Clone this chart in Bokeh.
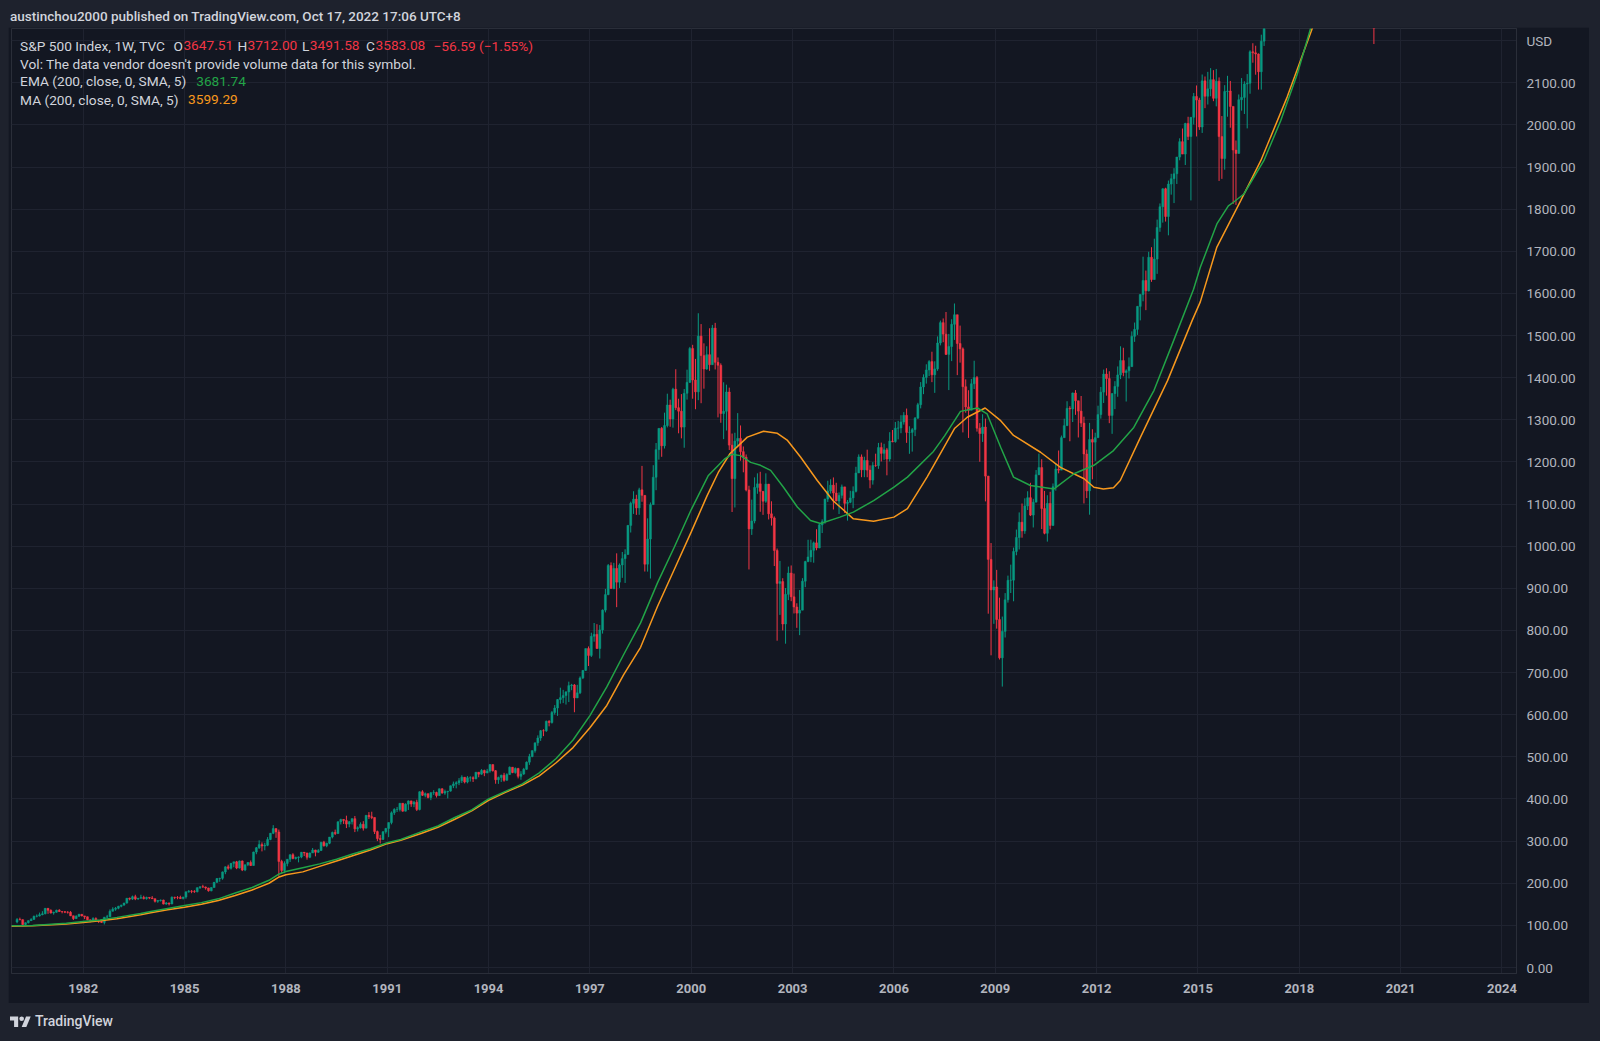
from bokeh.plotting import figure
from bokeh.models import (ColumnDataSource, FixedTicker, Range1d, Div, Label,
                          NumeralTickFormatter, PrintfTickFormatter, CDSView, BooleanFilter)
from bokeh.layouts import column
from bokeh.embed import file_html
from bokeh.resources import INLINE

# ---------------- data (S&P 500, monthly OHLC estimates, Jan 1980 .. Oct 2022) ----------------
first_year = 1980
first_open = 107.94

month_close = [
    114.16, 113.66, 102.09, 106.29, 111.24, 114.24, 121.67, 122.38, 125.46, 127.47, 140.52, 135.76,
    129.55, 131.27, 136.00, 132.81, 132.59, 131.21, 130.92, 122.79, 116.18, 121.89, 126.35, 122.55,
    120.40, 113.11, 111.96, 116.44, 111.88, 109.61, 107.09, 119.51, 120.42, 133.71, 138.54, 140.64,
    145.30, 148.06, 152.96, 164.42, 162.39, 168.11, 162.56, 164.40, 166.07, 163.55, 166.40, 164.93,
    163.41, 157.06, 159.18, 160.05, 150.55, 153.18, 150.66, 166.68, 166.10, 166.09, 163.58, 167.24,
    179.63, 181.18, 180.66, 179.83, 189.55, 191.85, 190.92, 188.63, 182.08, 189.82, 202.17, 211.28,
    211.78, 226.92, 238.90, 235.52, 247.35, 250.84, 236.12, 252.93, 231.32, 243.98, 249.22, 242.17,
    274.08, 284.20, 291.70, 288.36, 290.10, 304.00, 318.66, 329.80, 321.83, 251.79, 230.30, 247.08,
    257.07, 267.82, 258.89, 261.33, 262.16, 273.50, 272.02, 261.52, 271.91, 278.97, 273.70, 277.72,
    297.47, 288.86, 294.87, 309.64, 320.52, 317.98, 346.08, 351.45, 349.15, 340.36, 345.99, 353.40,
    329.08, 331.89, 339.94, 330.80, 361.23, 358.02, 356.15, 322.56, 306.05, 304.00, 322.22, 330.22,
    343.93, 367.07, 375.22, 375.35, 389.83, 371.16, 387.81, 395.43, 387.86, 392.46, 375.22, 417.09,
    408.79, 412.70, 403.69, 414.95, 415.35, 408.14, 424.21, 414.03, 417.80, 418.68, 431.35, 435.71,
    438.78, 443.38, 451.67, 440.19, 450.19, 450.53, 448.13, 463.56, 458.93, 467.83, 461.79, 466.45,
    481.61, 467.14, 445.77, 450.91, 456.50, 444.27, 458.26, 475.49, 462.69, 472.35, 453.69, 459.27,
    470.42, 487.39, 500.71, 514.71, 533.40, 544.75, 562.06, 561.88, 584.41, 581.50, 605.37, 615.93,
    636.02, 640.43, 645.50, 654.17, 669.12, 670.63, 639.95, 651.99, 687.31, 705.27, 757.02, 740.74,
    786.16, 790.82, 757.12, 801.34, 848.28, 885.14, 954.29, 899.47, 947.28, 914.62, 955.40, 970.43,
    980.28, 1049.34, 1101.75, 1111.75, 1090.82, 1133.84, 1120.67, 957.28, 1017.01, 1098.67, 1163.63, 1229.23,
    1279.64, 1238.33, 1286.37, 1335.18, 1301.84, 1372.71, 1328.72, 1320.41, 1282.71, 1362.93, 1388.91, 1469.25,
    1394.46, 1366.42, 1498.58, 1452.43, 1420.60, 1454.60, 1430.83, 1517.68, 1436.51, 1429.40, 1314.95, 1320.28,
    1366.01, 1239.94, 1160.33, 1249.46, 1255.82, 1224.42, 1211.23, 1133.58, 1040.94, 1059.78, 1139.45, 1148.08,
    1130.20, 1106.73, 1147.39, 1076.92, 1067.14, 989.82, 911.62, 916.07, 815.28, 885.76, 936.31, 879.82,
    855.70, 841.15, 848.18, 916.92, 963.59, 974.50, 990.31, 1008.01, 995.97, 1050.71, 1058.20, 1111.92,
    1131.13, 1144.94, 1126.21, 1107.30, 1120.68, 1140.84, 1101.72, 1104.24, 1114.58, 1130.20, 1173.82, 1211.92,
    1181.27, 1203.60, 1180.59, 1156.85, 1191.50, 1191.33, 1234.18, 1220.33, 1228.81, 1207.01, 1249.48, 1248.29,
    1280.08, 1280.66, 1294.87, 1310.61, 1270.09, 1270.20, 1276.66, 1303.82, 1335.85, 1377.94, 1400.63, 1418.30,
    1438.24, 1406.82, 1420.86, 1482.37, 1530.62, 1503.35, 1455.27, 1473.99, 1526.75, 1549.38, 1481.14, 1468.36,
    1378.55, 1330.63, 1322.70, 1385.59, 1400.38, 1280.00, 1267.38, 1282.83, 1166.36, 968.75, 896.24, 903.25,
    825.88, 735.09, 797.87, 872.81, 919.14, 919.32, 987.48, 1020.62, 1057.08, 1036.19, 1095.63, 1115.10,
    1073.87, 1104.49, 1169.43, 1186.69, 1089.41, 1030.71, 1101.60, 1049.33, 1141.20, 1183.26, 1180.55, 1257.64,
    1286.12, 1327.22, 1325.83, 1363.61, 1345.20, 1320.64, 1292.28, 1218.89, 1131.42, 1253.30, 1246.96, 1257.60,
    1312.41, 1365.68, 1408.47, 1397.91, 1310.33, 1362.16, 1379.32, 1406.58, 1440.67, 1412.16, 1416.18, 1426.19,
    1498.11, 1514.68, 1569.19, 1597.57, 1630.74, 1606.28, 1685.73, 1632.97, 1681.55, 1756.54, 1805.81, 1848.36,
    1782.59, 1859.45, 1872.34, 1883.95, 1923.57, 1960.23, 1930.67, 2003.37, 1972.29, 2018.05, 2067.56, 2058.90,
    1994.99, 2104.50, 2067.89, 2085.51, 2107.39, 2063.11, 2103.84, 1972.18, 1920.03, 2079.36, 2080.41, 2043.94,
    1940.24, 1932.23, 2059.74, 2065.30, 2096.95, 2098.86, 2173.60, 2170.95, 2168.27, 2126.15, 2198.81, 2238.83,
    2278.87, 2363.64, 2362.72, 2384.20, 2411.80, 2423.41, 2470.30, 2471.65, 2519.36, 2575.26, 2647.58, 2673.61,
    2823.81, 2713.83, 2640.87, 2648.05, 2705.27, 2718.37, 2816.29, 2901.52, 2913.98, 2711.74, 2760.17, 2506.85,
    2704.10, 2784.49, 2834.40, 2945.83, 2752.06, 2941.76, 2980.38, 2926.46, 2976.74, 3037.56, 3140.98, 3230.78,
    3225.52, 2954.22, 2584.59, 2912.43, 3044.31, 3100.29, 3271.12, 3500.31, 3363.00, 3269.96, 3621.63, 3756.07,
    3714.24, 3811.15, 3972.89, 4181.17, 4204.11, 4297.50, 4395.26, 4522.68, 4307.54, 4605.38, 4567.00, 4766.18,
    4515.55, 4373.94, 4530.41, 4131.93, 4132.15, 3785.38, 4130.29, 3955.00, 3585.62, 3583.07,
]

month_high = [
    117.2, 118.4, 114.3, 106.9, 111.9, 117.0, 123.1, 126.0, 130.4, 133.7, 141.0, 140.7,
    138.1, 132.5, 137.2, 138.4, 134.0, 133.9, 133.9, 133.9, 123.0, 123.9, 127.3, 126.3,
    122.6, 121.0, 113.9, 119.3, 119.1, 112.2, 112.5, 120.0, 124.9, 138.0, 143.0, 143.7,
    146.5, 149.0, 153.7, 164.4, 166.0, 170.7, 172.7, 165.0, 172.7, 170.4, 168.1, 167.2,
    169.5, 163.4, 160.0, 161.4, 161.0, 155.5, 154.1, 168.8, 167.9, 169.6, 170.4, 168.0,
    180.3, 183.9, 183.9, 183.6, 190.0, 192.5, 196.4, 192.3, 189.4, 190.1, 203.1, 212.0,
    213.0, 227.9, 240.0, 244.0, 248.0, 250.8, 253.1, 254.0, 254.1, 244.1, 250.1, 254.0,
    275.0, 286.0, 301.9, 297.0, 296.0, 309.5, 319.4, 337.9, 328.0, 327.4, 255.7, 252.0,
    257.1, 268.5, 271.3, 263.1, 263.7, 274.3, 274.1, 272.1, 273.0, 283.7, 279.4, 281.0,
    297.5, 300.6, 296.3, 309.6, 322.6, 327.4, 346.4, 353.1, 351.9, 360.4, 347.9, 354.1,
    359.7, 335.0, 344.5, 347.3, 361.3, 368.9, 369.8, 356.2, 325.0, 314.8, 323.6, 331.3,
    344.1, 370.5, 378.1, 381.1, 390.0, 389.6, 389.6, 396.7, 396.2, 395.4, 398.3, 418.3,
    420.8, 415.4, 413.1, 416.3, 420.9, 417.3, 424.9, 425.3, 422.3, 419.0, 431.9, 441.3,
    442.1, 449.6, 456.3, 451.6, 454.4, 453.9, 453.8, 464.0, 463.6, 470.9, 469.5, 471.5,
    482.9, 482.0, 468.6, 453.1, 457.6, 462.1, 461.1, 477.3, 474.0, 475.0, 474.0, 466.0,
    473.8, 489.2, 507.2, 515.3, 533.5, 551.1, 563.8, 565.5, 586.1, 587.0, 608.9, 622.9,
    637.0, 664.2, 659.0, 656.0, 678.5, 673.3, 672.7, 671.0, 690.9, 706.0, 757.0, 762.1,
    794.7, 817.7, 814.9, 812.9, 850.0, 898.7, 957.7, 961.6, 960.5, 983.1, 959.1, 986.3,
    992.7, 1050.0, 1105.7, 1130.5, 1122.0, 1138.7, 1190.6, 1121.0, 1066.1, 1103.8, 1192.3, 1244.9,
    1280.0, 1283.0, 1317.0, 1362.0, 1347.8, 1376.0, 1420.0, 1350.0, 1361.0, 1373.0, 1419.0, 1473.0,
    1478.0, 1444.6, 1552.9, 1527.2, 1481.5, 1474.6, 1517.3, 1525.2, 1530.1, 1448.0, 1434.0, 1389.1,
    1383.4, 1376.4, 1267.4, 1269.3, 1315.9, 1286.6, 1236.7, 1217.8, 1143.5, 1110.6, 1163.4, 1173.0,
    1176.6, 1131.0, 1173.0, 1147.8, 1106.6, 1070.7, 994.5, 965.0, 924.0, 900.7, 951.6, 954.3,
    935.1, 864.6, 895.9, 924.2, 965.4, 1015.3, 1015.4, 1011.0, 1040.3, 1053.8, 1063.7, 1112.6,
    1155.4, 1158.9, 1163.2, 1150.6, 1127.7, 1146.3, 1140.8, 1109.7, 1131.5, 1142.0, 1188.5, 1217.9,
    1217.8, 1212.4, 1229.1, 1191.9, 1199.6, 1219.6, 1245.2, 1245.9, 1243.1, 1233.3, 1270.6, 1275.8,
    1294.9, 1297.6, 1310.9, 1318.2, 1326.7, 1284.7, 1280.4, 1306.7, 1340.3, 1389.5, 1407.9, 1431.8,
    1441.6, 1461.6, 1438.9, 1498.0, 1535.6, 1540.6, 1555.9, 1503.9, 1538.7, 1576.1, 1545.4, 1523.6,
    1471.8, 1396.0, 1370.2, 1397.0, 1440.2, 1404.1, 1292.2, 1313.2, 1303.0, 1167.0, 1007.5, 918.9,
    943.8, 877.9, 833.0, 888.7, 930.2, 956.2, 996.7, 1039.5, 1080.2, 1101.4, 1113.7, 1130.4,
    1150.5, 1112.4, 1180.7, 1219.8, 1206.5, 1131.2, 1121.0, 1129.2, 1148.9, 1196.1, 1227.1, 1262.6,
    1302.7, 1344.1, 1332.3, 1364.6, 1370.6, 1345.2, 1356.5, 1307.4, 1229.3, 1292.7, 1277.6, 1269.4,
    1333.5, 1378.0, 1419.2, 1422.4, 1415.3, 1363.5, 1391.7, 1426.7, 1474.5, 1471.0, 1419.7, 1448.0,
    1509.9, 1530.9, 1570.3, 1597.6, 1687.2, 1654.2, 1698.8, 1709.7, 1729.9, 1775.2, 1813.6, 1849.4,
    1850.8, 1867.9, 1884.0, 1897.3, 1924.0, 1968.2, 1991.4, 2005.0, 2019.3, 2018.2, 2075.8, 2093.6,
    2064.4, 2119.6, 2114.9, 2125.9, 2134.7, 2130.0, 2132.8, 2112.7, 2021.0, 2094.3, 2116.5, 2104.3,
    2038.2, 1963.0, 2072.2, 2111.1, 2103.5, 2120.6, 2177.1, 2193.8, 2187.9, 2169.6, 2214.1, 2277.5,
    2301.0, 2371.5, 2401.0, 2398.2, 2418.7, 2453.8, 2484.0, 2490.9, 2519.4, 2583.0, 2657.7, 2695.0,
    2872.9, 2789.2, 2801.9, 2717.5, 2742.2, 2791.5, 2848.0, 2916.5, 2940.9, 2939.9, 2815.2, 2800.2,
    2709.0, 2813.5, 2860.3, 2949.5, 2954.1, 2964.2, 3028.0, 3013.6, 3022.0, 3050.1, 3154.3, 3247.9,
    3337.8, 3393.5, 3136.7, 2954.9, 3068.7, 3233.1, 3280.0, 3514.8, 3588.1, 3549.9, 3646.0, 3760.2,
    3870.9, 3950.4, 3994.4, 4218.8, 4238.0, 4302.4, 4430.0, 4537.4, 4545.9, 4608.1, 4743.8, 4808.9,
    4818.6, 4595.3, 4637.3, 4593.5, 4307.7, 4177.5, 4140.2, 4325.3, 4119.3, 3806.9,
]

month_low = [
    105.0, 111.9, 98.2, 101.0, 104.6, 110.5, 113.5, 119.1, 121.0, 124.0, 126.3, 127.4,
    128.0, 125.5, 130.2, 132.0, 128.6, 129.1, 128.0, 122.0, 112.8, 115.2, 119.9, 121.5,
    114.9, 112.5, 107.3, 111.5, 110.6, 105.5, 106.1, 102.2, 117.0, 120.7, 132.9, 134.8,
    138.3, 142.9, 147.6, 151.6, 159.5, 160.4, 159.9, 160.8, 163.7, 161.7, 161.1, 162.3,
    162.7, 154.3, 153.6, 156.6, 149.9, 149.0, 147.3, 150.6, 162.3, 162.1, 162.6, 161.6,
    163.4, 177.6, 176.4, 177.2, 178.4, 186.5, 189.3, 184.8, 180.2, 180.9, 189.5, 200.8,
    203.5, 208.4, 221.5, 232.1, 232.5, 238.0, 233.4, 234.9, 228.8, 228.7, 240.6, 240.9,
    242.2, 268.9, 281.5, 275.6, 278.2, 288.0, 302.2, 316.6, 307.8, 216.5, 222.5, 223.9,
    240.2, 250.5, 256.9, 256.3, 249.6, 259.4, 264.5, 256.0, 259.6, 271.8, 263.9, 272.0,
    276.4, 287.1, 285.5, 292.7, 306.5, 314.4, 317.0, 339.6, 340.8, 331.0, 333.0, 339.5,
    321.4, 322.9, 329.8, 325.0, 330.7, 352.4, 352.2, 316.9, 300.1, 294.5, 303.0, 317.8,
    309.4, 339.8, 362.1, 369.1, 370.4, 370.0, 370.6, 374.0, 381.4, 380.6, 371.4, 373.0,
    407.2, 404.0, 401.4, 397.2, 409.7, 403.5, 407.2, 412.6, 410.0, 401.4, 417.4, 425.8,
    425.3, 432.9, 438.0, 437.0, 437.2, 441.4, 440.4, 446.6, 451.6, 457.6, 454.2, 461.1,
    462.6, 465.1, 436.2, 435.9, 440.5, 441.1, 443.8, 457.2, 461.3, 460.1, 448.9, 445.6,
    457.2, 469.3, 481.0, 499.1, 510.0, 526.3, 538.0, 549.2, 559.2, 572.5, 579.0, 600.3,
    597.3, 626.3, 627.6, 624.2, 630.1, 658.2, 605.9, 639.5, 649.0, 684.6, 703.8, 715.7,
    737.0, 773.4, 756.6, 733.5, 792.6, 842.9, 883.7, 899.5, 897.9, 855.3, 900.9, 924.9,
    912.8, 980.3, 1032.5, 1076.7, 1074.4, 1074.6, 1105.5, 939.9, 939.7, 923.3, 1098.3, 1132.9,
    1205.5, 1212.2, 1231.9, 1282.0, 1283.5, 1281.4, 1323.0, 1268.0, 1256.0, 1233.7, 1348.0, 1387.4,
    1350.1, 1325.1, 1346.6, 1339.4, 1373.9, 1418.7, 1416.3, 1431.4, 1419.5, 1305.8, 1293.0, 1254.1,
    1274.6, 1228.4, 1081.2, 1091.9, 1234.4, 1203.0, 1175.4, 1130.2, 944.8, 1026.8, 1054.3, 1124.4,
    1081.7, 1074.4, 1103.0, 1063.5, 1048.9, 952.9, 775.7, 837.0, 800.2, 768.6, 872.0, 869.5,
    840.3, 806.3, 788.9, 847.9, 902.8, 962.0, 962.1, 960.8, 990.4, 995.3, 1031.2, 1053.4,
    1105.1, 1124.9, 1087.2, 1106.7, 1076.3, 1113.3, 1078.8, 1060.7, 1102.1, 1090.2, 1127.6, 1173.6,
    1163.8, 1163.8, 1163.7, 1137.5, 1146.2, 1188.3, 1183.6, 1201.1, 1205.1, 1168.2, 1201.1, 1246.6,
    1245.7, 1253.6, 1268.2, 1288.6, 1245.3, 1219.3, 1224.5, 1261.3, 1302.4, 1327.1, 1360.9, 1385.9,
    1403.9, 1389.4, 1364.0, 1416.4, 1476.7, 1484.2, 1454.3, 1370.6, 1439.3, 1489.6, 1406.1, 1435.7,
    1270.1, 1316.8, 1257.0, 1324.4, 1373.1, 1272.0, 1200.4, 1247.5, 1106.4, 839.8, 741.0, 815.7,
    804.3, 731.1, 666.8, 783.3, 866.1, 888.9, 869.3, 978.5, 992.3, 1020.2, 1029.4, 1085.9,
    1071.6, 1044.5, 1105.4, 1173.6, 1040.8, 1028.3, 1010.9, 1040.0, 1048.0, 1131.9, 1173.0, 1186.6,
    1262.2, 1294.7, 1249.1, 1294.7, 1311.8, 1258.1, 1282.9, 1101.5, 1114.2, 1074.8, 1158.7, 1202.4,
    1258.9, 1302.8, 1340.0, 1357.4, 1292.0, 1266.7, 1325.4, 1354.7, 1396.6, 1403.3, 1343.4, 1398.1,
    1426.2, 1485.0, 1501.5, 1536.0, 1581.3, 1560.3, 1604.6, 1627.5, 1633.4, 1646.5, 1746.2, 1768.0,
    1770.5, 1737.9, 1834.4, 1814.4, 1859.8, 1916.0, 1930.7, 1904.8, 1964.0, 1820.7, 2001.0, 1972.6,
    1988.1, 1980.9, 2039.7, 2048.4, 2067.9, 2056.3, 2044.0, 1867.0, 1871.9, 1893.7, 2019.4, 1993.3,
    1812.3, 1810.1, 1937.1, 2033.8, 2025.9, 1991.7, 2074.0, 2147.6, 2119.1, 2083.8, 2083.8, 2187.4,
    2233.6, 2271.7, 2322.3, 2329.0, 2352.7, 2405.7, 2407.7, 2417.4, 2446.6, 2520.4, 2557.5, 2605.5,
    2682.4, 2532.7, 2585.9, 2553.8, 2594.6, 2692.0, 2699.0, 2796.3, 2864.1, 2603.5, 2631.1, 2346.6,
    2444.0, 2681.8, 2722.3, 2848.6, 2750.5, 2728.8, 2952.2, 2822.1, 2891.9, 2855.9, 3050.7, 3070.3,
    3214.6, 2855.8, 2191.9, 2447.5, 2766.6, 2965.7, 3101.2, 3284.5, 3209.5, 3233.9, 3279.7, 3633.4,
    3662.7, 3725.6, 3723.3, 3955.5, 4056.9, 4164.4, 4233.1, 4367.7, 4305.9, 4278.9, 4560.0, 4495.1,
    4222.6, 4114.7, 4157.9, 4124.3, 3810.3, 3636.9, 3721.6, 3954.3, 3584.1, 3491.6,
]

# EMA(200w) and MA(200w) (year, value)
ema_year = [1979.87, 1980.5, 1981.5, 1982.0, 1982.5, 1983.0, 1983.7, 1984.0, 1984.5, 1985.0,
            1985.5, 1986.0, 1986.5, 1987.0, 1987.5, 1987.8, 1988.0, 1988.5, 1989.0, 1989.5,
            1990.0, 1990.5, 1991.0, 1991.4, 1992.0, 1992.5, 1993.0, 1993.5, 1994.0, 1994.5,
            1995.0, 1995.5, 1996.0, 1996.5, 1997.0, 1997.5, 1998.0, 1998.5, 1999.0, 1999.5,
            2000.0, 2000.5, 2001.0, 2001.2, 2001.46, 2001.76, 2002.05, 2002.35, 2002.73, 2003.14,
            2003.53, 2003.83, 2004.4, 2004.8, 2005.4, 2006.0, 2006.4, 2007.17, 2007.5, 2007.97,
            2008.47, 2008.76, 2009.16, 2009.54, 2010.04, 2010.74, 2011.33, 2011.92, 2012.5, 2013.1,
            2013.7, 2014.28, 2014.87, 2015.07, 2015.56, 2015.9, 2016.06, 2016.36, 2016.95, 2017.45,
            2017.94, 2018.33, 2018.6]
ema_value = [99, 100, 105, 109, 113, 119, 128, 133, 140, 147,
             154, 163, 177, 190, 207, 222, 228, 237, 246, 257,
             270, 282, 296, 304, 322, 336, 356, 374, 400, 418,
             436, 462, 496, 540, 598, 666, 743, 818, 913, 998,
             1087, 1167, 1208, 1218, 1215, 1199, 1192, 1180, 1140, 1093,
             1061, 1054, 1069, 1081, 1108, 1140, 1164, 1225, 1262, 1320,
             1328, 1314, 1235, 1164, 1144, 1136, 1172, 1192, 1227, 1282,
             1370, 1488, 1610, 1662, 1765, 1808, 1817, 1836, 1915, 2010,
             2121, 2228, 2300]

ma_year = [1979.87, 1980.5, 1981.5, 1982.0, 1982.5, 1983.0, 1983.7, 1984.0, 1984.5, 1985.0,
           1985.5, 1986.0, 1986.5, 1987.0, 1987.5, 1987.8, 1988.0, 1988.5, 1989.0, 1989.5,
           1990.0, 1990.5, 1991.0, 1991.4, 1992.0, 1992.5, 1993.0, 1993.5, 1994.0, 1994.5,
           1995.0, 1995.5, 1996.0, 1996.5, 1997.0, 1997.5, 1998.0, 1998.5, 1999.0, 1999.47,
           2000.0, 2000.47, 2000.8, 2001.15, 2001.66, 2002.14, 2002.55, 2002.85, 2003.24, 2003.73,
           2004.2, 2004.8, 2005.4, 2006.0, 2006.4, 2006.98, 2007.37, 2007.8, 2008.17, 2008.7,
           2009.16, 2009.54, 2010.34, 2010.93, 2011.63, 2011.92, 2012.2, 2012.5, 2012.7, 2013.3,
           2014.1, 2014.83, 2015.07, 2015.56, 2016.27, 2016.86, 2017.64, 2018.38, 2018.6]
ma_value = [98, 99, 103, 107, 111, 116, 125, 130, 137, 143,
            150, 159, 171, 184, 200, 215, 220, 227, 240, 253,
            266, 279, 294, 302, 318, 333, 352, 372, 397, 416,
            433, 455, 486, 522, 569, 622, 695, 760, 857, 940,
            1034, 1120, 1175, 1220, 1259, 1273, 1268, 1251, 1211, 1156,
            1108, 1065, 1059, 1069, 1089, 1164, 1219, 1280, 1306, 1328,
            1298, 1263, 1223, 1187, 1160, 1140, 1136, 1139, 1156, 1259,
            1393, 1536, 1580, 1710, 1821, 1915, 2066, 2228, 2290]

year_ticks = [1982, 1985, 1988, 1991, 1994, 1997, 2000, 2003, 2006, 2009, 2012, 2015, 2018, 2021, 2024]
price_ticks = list(range(0, 2201, 100))

# ---------------- styling ----------------
PANE = "#131722"
OUTER = "#1e222d"
GRID = "#1f2330"
TEXT = "#d1d4dc"
AXIS_TEXT = "#b2b5be"
UP = "#089981"
DOWN = "#f23645"
EMA_C = "#22a447"
MA_C = "#f7981d"
FONT = "Roboto"

Y_MIN, Y_MAX = -14.2, 2228.8

n = min(len(month_close), len(month_high), len(month_low))
t, o, h, l, c, top, bot, col, vis = [], [], [], [], [], [], [], [], []
prev = first_open
for i in range(n):
    ci = month_close[i]
    oi = prev
    hi = max(month_high[i], oi, ci)
    li = min(month_low[i], oi, ci)
    t.append(first_year + (i + 0.5) / 12.0)
    o.append(oi); h.append(hi); l.append(li); c.append(ci)
    top.append(max(oi, ci)); bot.append(min(oi, ci))
    col.append(UP if ci >= oi else DOWN)
    vis.append(li < Y_MAX)          # candles entirely above the visible price range are not drawn
    prev = ci

src = ColumnDataSource(dict(t=t, o=o, h=h, l=l, c=c, top=top, bot=bot, color=col))
view = CDSView(filter=BooleanFilter(vis))

PAGE_LEFT = 8
HEADER_H = 27
FIG_W, FIG_H = 1581, 976
BL, BR, BT, BB = 3, 73, 1, 30
FRAME_H = FIG_H - BT - BB
FOOTER_H = 1041 - HEADER_H - FIG_H

p = figure(width=FIG_W, height=FIG_H,
           x_range=Range1d(1979.877, 2024.43), y_range=Range1d(Y_MIN, Y_MAX),
           output_backend="svg", toolbar_location=None, y_axis_location="right",
           min_border_left=BL, min_border_right=BR, min_border_top=BT, min_border_bottom=BB,
           background_fill_color=PANE, border_fill_color=PANE,
           outline_line_color="#2a2e39")

p.segment(x0="t", y0="l", x1="t", y1="h", line_color="color", line_width=1,
          source=src, view=view)
p.vbar(x="t", width=0.7 / 12, top="top", bottom="bot", fill_color="color",
       line_color="color", line_width=0.5, source=src, view=view)

p.line(ma_year, ma_value, line_color=MA_C, line_width=1.5)
p.line(ema_year, ema_value, line_color=EMA_C, line_width=1.5)

# axes
p.xaxis.ticker = FixedTicker(ticks=year_ticks)
p.xaxis.formatter = PrintfTickFormatter(format="%d")
p.xaxis.major_tick_line_color = None
p.xaxis.major_tick_out = 0
p.xaxis.major_tick_in = 0
p.xaxis.minor_tick_line_color = None
p.xaxis.minor_tick_out = 0
p.xaxis.axis_line_color = "#2a2e39"
p.xaxis.major_label_standoff = 10
p.xaxis.major_label_text_font = FONT
p.xaxis.major_label_text_font_size = "13px"
p.xaxis.major_label_text_font_style = "bold"
p.xaxis.major_label_text_color = AXIS_TEXT

p.yaxis.ticker = FixedTicker(ticks=price_ticks)
p.yaxis.formatter = NumeralTickFormatter(format="0.00")
p.yaxis.major_label_overrides = {2200: "USD"}
p.yaxis.major_tick_line_color = None
p.yaxis.major_tick_out = 0
p.yaxis.major_tick_in = 0
p.yaxis.minor_tick_line_color = None
p.yaxis.minor_tick_out = 0
p.yaxis.axis_line_color = "#2a2e39"
p.yaxis.major_label_standoff = 10
p.yaxis.major_label_text_font = FONT
p.yaxis.major_label_text_font_size = "13.5px"
p.yaxis.major_label_text_color = AXIS_TEXT

p.xgrid.grid_line_color = GRID
p.ygrid.grid_line_color = GRID
p.xgrid.ticker = FixedTicker(ticks=year_ticks)
p.ygrid.ticker = FixedTicker(ticks=price_ticks)

# legend (top-left status lines); page positions converted to frame-relative screen units
FRAME_LEFT = PAGE_LEFT + BL
FRAME_TOP = HEADER_H + BT


def add_text(txt, page_x, page_y, color, size="13.7px"):
    p.add_layout(Label(x=page_x - FRAME_LEFT, y=FRAME_H - (page_y - FRAME_TOP),
                       x_units="screen", y_units="screen", text=txt,
                       text_font=FONT, text_font_size=size, text_color=color,
                       text_align="left", text_baseline="middle"))


y1, y2, y3, y4 = 45, 63.3, 80.8, 99
add_text("S&P 500 Index, 1W, TVC", 19.6, y1, TEXT)
add_text("O", 173.0, y1, TEXT)
add_text("3647.51", 182.9, y1, DOWN)
add_text("H", 237.0, y1, TEXT)
add_text("3712.00", 247.0, y1, DOWN)
add_text("L", 301.5, y1, TEXT)
add_text("3491.58", 309.3, y1, DOWN)
add_text("C", 365.5, y1, TEXT)
add_text("3583.08", 375.0, y1, DOWN)
add_text("\u221256.59 (\u22121.55%)", 433.0, y1, DOWN)
add_text("Vol: The data vendor doesn't provide volume data for this symbol.", 19.6, y2, TEXT)
add_text("EMA (200, close, 0, SMA, 5)", 19.6, y3, TEXT)
add_text("3681.74", 195.7, y3, EMA_C)
add_text("MA (200, close, 0, SMA, 5)", 19.6, y4, TEXT)
add_text("3599.29", 187.5, y4, MA_C)

header = Div(
    text=('<div style="font-family:Roboto;font-size:13.5px;font-weight:500;color:#d1d4dc;'
          'padding-left:2px;line-height:32px;white-space:nowrap;">'
          'austinchou2000 published on TradingView.com, Oct 17, 2022 17:06 UTC+8</div>'),
    width=FIG_W, height=HEADER_H, margin=(0, 0, 0, 0))

logo_svg = ('<svg width="21" height="13" viewBox="0 0 36 22" style="vertical-align:-1px;margin-right:4px">'
            '<path d="M14 22H7V11H0V4h14v18z" fill="#d1d4dc"/>'
            '<circle cx="20" cy="8" r="4" fill="#d1d4dc"/>'
            '<path d="M28 22h-8l7.5-18h8L28 22z" fill="#d1d4dc"/></svg>')
footer = Div(
    text=('<div style="font-family:Roboto;font-size:14px;font-weight:500;color:#d1d4dc;'
          'padding-left:2px;line-height:36px;white-space:nowrap;">'
          + logo_svg + 'TradingView</div>'),
    width=FIG_W, height=FOOTER_H, margin=(0, 0, 0, 0))

layout = column(header, p, footer, spacing=0)

html = file_html(layout, INLINE, title="S&P 500 Index, 1W")
html = html.replace(
    "</head>",
    "<style>html,body{background:%s !important;overflow:hidden;}"
    "body{margin:0 !important;padding:0 0 0 %dpx !important;}</style></head>" % (OUTER, PAGE_LEFT), 1)
open("out.html", "w").write(html)
